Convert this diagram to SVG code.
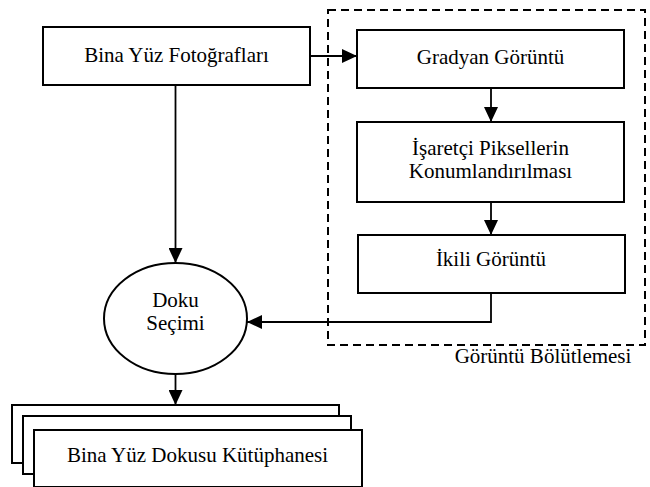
<svg xmlns="http://www.w3.org/2000/svg" width="650" height="487" viewBox="0 0 650 487">
<style>
.box{fill:#fff;stroke:#000;stroke-width:2}
.ln{fill:none;stroke:#000;stroke-width:1.8}
.dash{fill:none;stroke:#000;stroke-width:2;stroke-dasharray:8 5}
.t{font-family:'Liberation Serif','DejaVu Serif',serif;font-size:21px;fill:#000;text-anchor:middle}
</style>
<defs>
<marker id="ah" markerWidth="15" markerHeight="14" refX="15" refY="7" orient="auto" markerUnits="userSpaceOnUse">
<path d="M0,0 L15,7 L0,14 Z" fill="#000"/>
</marker>
</defs>
<g id="segmentation-group">
<rect class="dash" x="328" y="10" width="317" height="335"/>
<text class="t" font-family="Liberation Serif, serif" x="543" y="363">Görüntü Bölütlemesi</text>
</g>
<g id="connectors">
<line class="ln" x1="310" y1="56" x2="357" y2="56" marker-end="url(#ah)"/>
<line class="ln" x1="491" y1="88" x2="491" y2="122" marker-end="url(#ah)"/>
<line class="ln" x1="491" y1="202" x2="491" y2="235" marker-end="url(#ah)"/>
<polyline class="ln" points="491,293 491,322 247,322" marker-end="url(#ah)"/>
<line class="ln" x1="175.5" y1="85" x2="175.5" y2="263" marker-end="url(#ah)"/>
<line class="ln" x1="175.5" y1="374" x2="175.5" y2="405" marker-end="url(#ah)"/>
</g>
<g id="bina-yuz-fotograflari">
<rect class="box" x="43" y="27" width="267" height="58"/>
<text class="t" font-family="Liberation Serif, serif" x="176.5" y="62">Bina Yüz Fotoğrafları</text>
</g>
<g id="gradyan-goruntu">
<rect class="box" x="357" y="30" width="267" height="58"/>
<text class="t" font-family="Liberation Serif, serif" x="490.5" y="64">Gradyan Görüntü</text>
</g>
<g id="isaretci-pikseller">
<rect class="box" x="357" y="122" width="267" height="80"/>
<text class="t" font-family="Liberation Serif, serif" x="490.5" y="155">İşaretçi Piksellerin</text>
<text class="t" font-family="Liberation Serif, serif" x="490.5" y="178">Konumlandırılması</text>
</g>
<g id="ikili-goruntu">
<rect class="box" x="358" y="235" width="267" height="58"/>
<text class="t" font-family="Liberation Serif, serif" x="491" y="266">İkili Görüntü</text>
</g>
<g id="doku-secimi">
<ellipse class="box" cx="175.5" cy="318.5" rx="71.5" ry="55.5"/>
<text class="t" font-family="Liberation Serif, serif" x="175.5" y="307">Doku</text>
<text class="t" font-family="Liberation Serif, serif" x="175.5" y="330">Seçimi</text>
</g>
<g id="doku-kutuphanesi">
<rect class="box" x="12" y="405" width="327" height="58"/>
<rect class="box" x="23" y="416" width="328" height="58"/>
<rect class="box" x="34" y="430" width="328" height="57"/>
<text class="t" font-family="Liberation Serif, serif" x="197.5" y="462">Bina Yüz Dokusu Kütüphanesi</text>
</g>
</svg>
